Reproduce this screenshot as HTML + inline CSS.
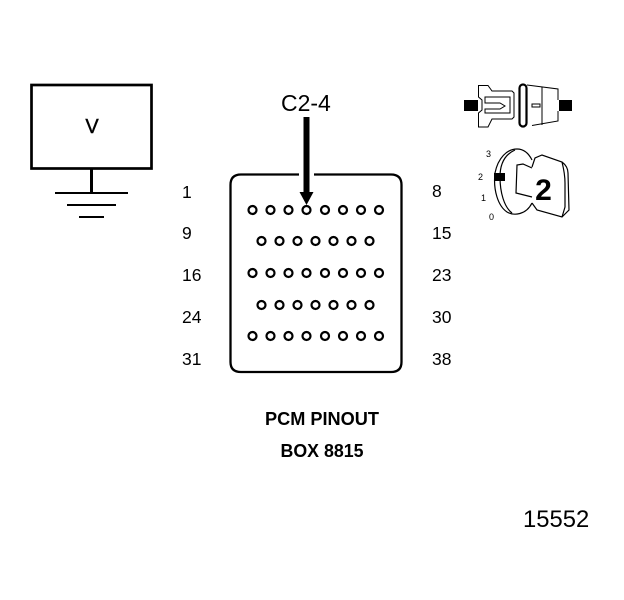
<!DOCTYPE html>
<html><head><meta charset="utf-8"><style>
html,body{margin:0;padding:0;background:#fff}
svg{display:block}
text{font-family:"Liberation Sans",sans-serif;fill:#000}
</style></head><body>
<svg width="624" height="600" viewBox="0 0 624 600" xmlns="http://www.w3.org/2000/svg">
<rect width="624" height="600" fill="#fff"/>
<rect x="31.500" y="85" width="120" height="83.500" fill="none" stroke="#000" stroke-width="2.700"/>
<text x="92" y="133" font-size="20" text-anchor="middle" stroke="#000" stroke-width="0.400">V</text>
<path d="M91.500 169V193" stroke="#000" stroke-width="3"/>
<path d="M55 193H128M67 205H116M79 217H104" stroke="#000" stroke-width="2"/>

<path d="M299 174.500H241Q230.500 174.500 230.500 185V362Q230.500 372 241 372H391Q401.500 372 401.500 362V185Q401.500 174.500 391 174.500H314" fill="none" stroke="#000" stroke-width="2.300"/>
<path d="M306.500 117V193" stroke="#000" stroke-width="6"/>
<path d="M299.500 192H313.500L306.500 205Z" fill="#000"/>

<g fill="#fff" stroke="#000" stroke-width="2.200">
<circle cx="252.500" cy="210" r="4"/><circle cx="270.500" cy="210" r="4"/><circle cx="288.500" cy="210" r="4"/><circle cx="306.500" cy="210" r="4"/><circle cx="325" cy="210" r="4"/><circle cx="343" cy="210" r="4"/><circle cx="361" cy="210" r="4"/><circle cx="379" cy="210" r="4"/>
<circle cx="261.500" cy="241" r="4"/><circle cx="279.500" cy="241" r="4"/><circle cx="297.500" cy="241" r="4"/><circle cx="315.500" cy="241" r="4"/><circle cx="333.500" cy="241" r="4"/><circle cx="351.500" cy="241" r="4"/><circle cx="369.500" cy="241" r="4"/>
<circle cx="252.500" cy="273" r="4"/><circle cx="270.500" cy="273" r="4"/><circle cx="288.500" cy="273" r="4"/><circle cx="306.500" cy="273" r="4"/><circle cx="325" cy="273" r="4"/><circle cx="343" cy="273" r="4"/><circle cx="361" cy="273" r="4"/><circle cx="379" cy="273" r="4"/>
<circle cx="261.500" cy="305" r="4"/><circle cx="279.500" cy="305" r="4"/><circle cx="297.500" cy="305" r="4"/><circle cx="315.500" cy="305" r="4"/><circle cx="333.500" cy="305" r="4"/><circle cx="351.500" cy="305" r="4"/><circle cx="369.500" cy="305" r="4"/>
<circle cx="252.500" cy="336" r="4"/><circle cx="270.500" cy="336" r="4"/><circle cx="288.500" cy="336" r="4"/><circle cx="306.500" cy="336" r="4"/><circle cx="325" cy="336" r="4"/><circle cx="343" cy="336" r="4"/><circle cx="361" cy="336" r="4"/><circle cx="379" cy="336" r="4"/>
</g>

<text x="281" y="111" font-size="23">C2-4</text>
<g font-size="17.500">
<text x="182" y="198">1</text><text x="182" y="239">9</text><text x="182" y="281">16</text><text x="182" y="323">24</text><text x="182" y="365">31</text>
<text x="432" y="197">8</text><text x="432" y="239">15</text><text x="432" y="281">23</text><text x="432" y="323">30</text><text x="432" y="365">38</text>
</g>
<text x="322" y="425" font-size="18" font-weight="bold" text-anchor="middle" textLength="114" lengthAdjust="spacingAndGlyphs">PCM PINOUT</text>
<text x="322" y="457" font-size="18" font-weight="bold" text-anchor="middle" textLength="83" lengthAdjust="spacingAndGlyphs">BOX 8815</text>
<text x="523" y="527" font-size="23.800">15552</text>

<!-- connector top -->
<rect x="464" y="100" width="14" height="11" fill="#000"/>
<rect x="559" y="100" width="13" height="11" fill="#000"/>
<g fill="none" stroke="#000" stroke-width="1">
<path d="M478.500 85.500H488L492 91H512L514 93V117L512 119H492L488 127H478.500V113L482 110V100L478.500 97Z"/>
<path d="M485 97H510V113H485V109H500L505 106L500 103H485Z"/>
<path d="M527 85L558 89V100M558 111V121L532 125.500" stroke-dasharray="none"/>
<rect x="519.500" y="84.500" width="7" height="42" rx="3.500" stroke-width="2.200"/>
<path d="M542 87V125"/>
<rect x="532" y="104" width="8" height="3"/>
</g>

<!-- connector bottom -->
<g fill="none" stroke="#000" stroke-width="1.200">
<path d="M532 160C528 152 523 149 517 149C507 149 498 158 495 173C493 190 498 206 507 212C514 216 526 215 532 203"/>
<path d="M515 150C506 154 500 162 500 177C500 192 504 207 512 213"/>
<path d="M532 168L523 164L517 165L516 193L532 197"/>
<path d="M532 167L535 158L542 155L562 162C566 165 568 169 568 173L569 210L562 217L537 210L532 203"/>
<path d="M562 162C564 170 565 176 565 183L565 207L562 217"/>
</g>
<rect x="494" y="173" width="11" height="8" fill="#000"/>
<text x="543.500" y="200" font-size="30" font-weight="bold" text-anchor="middle">2</text>
<g font-size="9">
<text x="486" y="157">3</text><text x="478" y="180">2</text><text x="481" y="201">1</text><text x="489" y="220">0</text>
</g>
</svg>
</body></html>
